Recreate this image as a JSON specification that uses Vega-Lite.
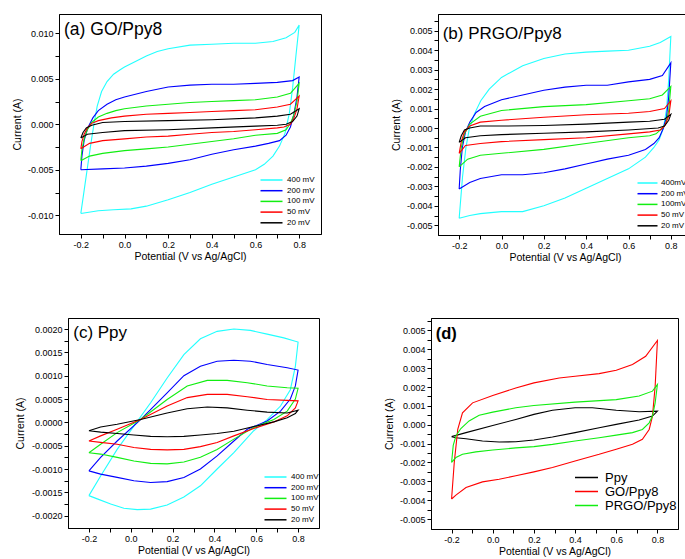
{
"$schema":"https://vega.github.io/schema/vega-lite/v6.json",
"padding":{"left":10,"top":13,"right":0,"bottom":0},
"background":"white",
"config":{
 "font":"Liberation Sans",
 "view":{"stroke":"black","strokeWidth":1},
 "axis":{"grid":false,"domainColor":"black","tickColor":"black","labelColor":"black","titleColor":"black","labelFontSize":9,"titleFontSize":10.5,"titleFontWeight":"normal","tickSize":4,"labelPadding":2,"labelFont":"Liberation Sans","titleFont":"Liberation Sans","labelOverlap":false,"labelFlush":false},
 "legend":{"labelFont":"Liberation Sans","labelColor":"black","padding":0}
},
"datasets":{
"a":[
{"s":"400 mV","x":-0.2,"y":-0.0098},{"s":"400 mV","x":-0.185,"y":-0.0073},{"s":"400 mV","x":-0.17,"y":-0.0048},{"s":"400 mV","x":-0.155,"y":-0.0023},{"s":"400 mV","x":-0.14,"y":0.0},{"s":"400 mV","x":-0.125,"y":0.002},{"s":"400 mV","x":-0.105,"y":0.0036},{"s":"400 mV","x":-0.08,"y":0.0047},{"s":"400 mV","x":-0.05,"y":0.0055},{"s":"400 mV","x":-0.02,"y":0.006},{"s":"400 mV","x":0.0,"y":0.0063},{"s":"400 mV","x":0.05,"y":0.0069},{"s":"400 mV","x":0.1,"y":0.0075},{"s":"400 mV","x":0.15,"y":0.008},{"s":"400 mV","x":0.2,"y":0.0083},{"s":"400 mV","x":0.3,"y":0.0087},{"s":"400 mV","x":0.4,"y":0.0088},{"s":"400 mV","x":0.5,"y":0.0089},{"s":"400 mV","x":0.6,"y":0.0089},{"s":"400 mV","x":0.68,"y":0.0091},{"s":"400 mV","x":0.74,"y":0.0095},{"s":"400 mV","x":0.78,"y":0.0101},{"s":"400 mV","x":0.8,"y":0.0109},{"s":"400 mV","x":0.785,"y":0.0075},{"s":"400 mV","x":0.77,"y":0.004},{"s":"400 mV","x":0.755,"y":0.0012},{"s":"400 mV","x":0.735,"y":-0.001},{"s":"400 mV","x":0.71,"y":-0.0024},{"s":"400 mV","x":0.68,"y":-0.0035},{"s":"400 mV","x":0.64,"y":-0.0044},{"s":"400 mV","x":0.6,"y":-0.005},{"s":"400 mV","x":0.5,"y":-0.0058},{"s":"400 mV","x":0.4,"y":-0.0066},{"s":"400 mV","x":0.3,"y":-0.0075},{"s":"400 mV","x":0.2,"y":-0.0083},{"s":"400 mV","x":0.1,"y":-0.009},{"s":"400 mV","x":0.03,"y":-0.0093},{"s":"400 mV","x":-0.05,"y":-0.0094},{"s":"400 mV","x":-0.12,"y":-0.0095},{"s":"400 mV","x":-0.2,"y":-0.0098},
{"s":"200 mV","x":-0.2,"y":-0.005},{"s":"200 mV","x":-0.195,"y":-0.0035},{"s":"200 mV","x":-0.185,"y":-0.0018},{"s":"200 mV","x":-0.17,"y":-0.0005},{"s":"200 mV","x":-0.145,"y":0.0007},{"s":"200 mV","x":-0.12,"y":0.0015},{"s":"200 mV","x":-0.08,"y":0.0022},{"s":"200 mV","x":-0.04,"y":0.0027},{"s":"200 mV","x":0.0,"y":0.003},{"s":"200 mV","x":0.1,"y":0.0036},{"s":"200 mV","x":0.2,"y":0.0041},{"s":"200 mV","x":0.3,"y":0.0043},{"s":"200 mV","x":0.4,"y":0.0044},{"s":"200 mV","x":0.5,"y":0.0044},{"s":"200 mV","x":0.6,"y":0.0045},{"s":"200 mV","x":0.7,"y":0.0046},{"s":"200 mV","x":0.77,"y":0.0048},{"s":"200 mV","x":0.8,"y":0.0052},{"s":"200 mV","x":0.79,"y":0.003},{"s":"200 mV","x":0.775,"y":0.001},{"s":"200 mV","x":0.76,"y":-0.0003},{"s":"200 mV","x":0.74,"y":-0.0012},{"s":"200 mV","x":0.71,"y":-0.0018},{"s":"200 mV","x":0.66,"y":-0.0021},{"s":"200 mV","x":0.6,"y":-0.0024},{"s":"200 mV","x":0.5,"y":-0.0028},{"s":"200 mV","x":0.4,"y":-0.0033},{"s":"200 mV","x":0.3,"y":-0.0039},{"s":"200 mV","x":0.2,"y":-0.0043},{"s":"200 mV","x":0.1,"y":-0.0046},{"s":"200 mV","x":0.0,"y":-0.0048},{"s":"200 mV","x":-0.1,"y":-0.0049},{"s":"200 mV","x":-0.2,"y":-0.005},
{"s":"100 mV","x":-0.2,"y":-0.004},{"s":"100 mV","x":-0.195,"y":-0.0028},{"s":"100 mV","x":-0.185,"y":-0.0016},{"s":"100 mV","x":-0.17,"y":-0.0006},{"s":"100 mV","x":-0.15,"y":0.0002},{"s":"100 mV","x":-0.12,"y":0.0008},{"s":"100 mV","x":-0.08,"y":0.0012},{"s":"100 mV","x":-0.04,"y":0.0015},{"s":"100 mV","x":0.0,"y":0.0017},{"s":"100 mV","x":0.1,"y":0.002},{"s":"100 mV","x":0.2,"y":0.0022},{"s":"100 mV","x":0.3,"y":0.0024},{"s":"100 mV","x":0.4,"y":0.0025},{"s":"100 mV","x":0.5,"y":0.0026},{"s":"100 mV","x":0.6,"y":0.0027},{"s":"100 mV","x":0.7,"y":0.003},{"s":"100 mV","x":0.76,"y":0.0034},{"s":"100 mV","x":0.8,"y":0.0045},{"s":"100 mV","x":0.79,"y":0.0025},{"s":"100 mV","x":0.775,"y":0.001},{"s":"100 mV","x":0.76,"y":0.0001},{"s":"100 mV","x":0.74,"y":-0.0006},{"s":"100 mV","x":0.7,"y":-0.001},{"s":"100 mV","x":0.6,"y":-0.0012},{"s":"100 mV","x":0.5,"y":-0.0016},{"s":"100 mV","x":0.4,"y":-0.0019},{"s":"100 mV","x":0.3,"y":-0.0022},{"s":"100 mV","x":0.2,"y":-0.0025},{"s":"100 mV","x":0.1,"y":-0.0027},{"s":"100 mV","x":0.0,"y":-0.0029},{"s":"100 mV","x":-0.1,"y":-0.0032},{"s":"100 mV","x":-0.16,"y":-0.0035},{"s":"100 mV","x":-0.2,"y":-0.004},
{"s":"50 mV","x":-0.2,"y":-0.0027},{"s":"50 mV","x":-0.195,"y":-0.0019},{"s":"50 mV","x":-0.185,"y":-0.0011},{"s":"50 mV","x":-0.17,"y":-0.0004},{"s":"50 mV","x":-0.15,"y":0.0001},{"s":"50 mV","x":-0.12,"y":0.0004},{"s":"50 mV","x":-0.06,"y":0.0007},{"s":"50 mV","x":0.0,"y":0.0009},{"s":"50 mV","x":0.1,"y":0.0011},{"s":"50 mV","x":0.2,"y":0.0012},{"s":"50 mV","x":0.3,"y":0.0013},{"s":"50 mV","x":0.4,"y":0.0014},{"s":"50 mV","x":0.5,"y":0.0015},{"s":"50 mV","x":0.6,"y":0.0016},{"s":"50 mV","x":0.7,"y":0.0019},{"s":"50 mV","x":0.76,"y":0.0022},{"s":"50 mV","x":0.8,"y":0.0031},{"s":"50 mV","x":0.79,"y":0.0017},{"s":"50 mV","x":0.775,"y":0.0006},{"s":"50 mV","x":0.76,"y":0.0},{"s":"50 mV","x":0.73,"y":-0.0003},{"s":"50 mV","x":0.7,"y":-0.0004},{"s":"50 mV","x":0.6,"y":-0.0006},{"s":"50 mV","x":0.5,"y":-0.0008},{"s":"50 mV","x":0.4,"y":-0.0009},{"s":"50 mV","x":0.3,"y":-0.0011},{"s":"50 mV","x":0.2,"y":-0.0013},{"s":"50 mV","x":0.1,"y":-0.0014},{"s":"50 mV","x":0.0,"y":-0.0016},{"s":"50 mV","x":-0.1,"y":-0.0018},{"s":"50 mV","x":-0.16,"y":-0.0021},{"s":"50 mV","x":-0.2,"y":-0.0027},
{"s":"20 mV","x":-0.2,"y":-0.0015},{"s":"20 mV","x":-0.19,"y":-0.0009},{"s":"20 mV","x":-0.175,"y":-0.0004},{"s":"20 mV","x":-0.15,"y":-0.0001},{"s":"20 mV","x":-0.1,"y":0.0002},{"s":"20 mV","x":0.0,"y":0.0003},{"s":"20 mV","x":0.2,"y":0.0004},{"s":"20 mV","x":0.4,"y":0.0005},{"s":"20 mV","x":0.6,"y":0.0007},{"s":"20 mV","x":0.7,"y":0.0009},{"s":"20 mV","x":0.76,"y":0.0011},{"s":"20 mV","x":0.8,"y":0.0017},{"s":"20 mV","x":0.79,"y":0.0009},{"s":"20 mV","x":0.77,"y":0.0003},{"s":"20 mV","x":0.74,"y":0.0},{"s":"20 mV","x":0.7,"y":-0.0001},{"s":"20 mV","x":0.6,"y":-0.0002},{"s":"20 mV","x":0.4,"y":-0.0004},{"s":"20 mV","x":0.2,"y":-0.0006},{"s":"20 mV","x":0.0,"y":-0.0007},{"s":"20 mV","x":-0.1,"y":-0.0009},{"s":"20 mV","x":-0.17,"y":-0.0011},{"s":"20 mV","x":-0.2,"y":-0.0015}
],
"b":[
{"s":"400mV","x":-0.2,"y":-0.00464},{"s":"400mV","x":-0.184,"y":-0.0025},{"s":"400mV","x":-0.168,"y":-0.001},{"s":"400mV","x":-0.153,"y":-0.0001},{"s":"400mV","x":-0.129,"y":0.0007},{"s":"400mV","x":-0.098,"y":0.0014},{"s":"400mV","x":-0.058,"y":0.002},{"s":"400mV","x":0.0,"y":0.0026},{"s":"400mV","x":0.1,"y":0.0032},{"s":"400mV","x":0.2,"y":0.00357},{"s":"400mV","x":0.3,"y":0.0038},{"s":"400mV","x":0.4,"y":0.0039},{"s":"400mV","x":0.5,"y":0.00395},{"s":"400mV","x":0.6,"y":0.004},{"s":"400mV","x":0.7,"y":0.0042},{"s":"400mV","x":0.75,"y":0.0044},{"s":"400mV","x":0.8,"y":0.0047},{"s":"400mV","x":0.79,"y":0.0025},{"s":"400mV","x":0.78,"y":0.001},{"s":"400mV","x":0.765,"y":0.0},{"s":"400mV","x":0.745,"y":-0.0006},{"s":"400mV","x":0.72,"y":-0.001},{"s":"400mV","x":0.68,"y":-0.0015},{"s":"400mV","x":0.6,"y":-0.0021},{"s":"400mV","x":0.5,"y":-0.0026},{"s":"400mV","x":0.4,"y":-0.0031},{"s":"400mV","x":0.3,"y":-0.0036},{"s":"400mV","x":0.2,"y":-0.004},{"s":"400mV","x":0.1,"y":-0.0043},{"s":"400mV","x":0.0,"y":-0.0043},{"s":"400mV","x":-0.1,"y":-0.0044},{"s":"400mV","x":-0.15,"y":-0.0045},{"s":"400mV","x":-0.2,"y":-0.00464},
{"s":"200 mV","x":-0.2,"y":-0.00314},{"s":"200 mV","x":-0.195,"y":-0.0022},{"s":"200 mV","x":-0.185,"y":-0.001},{"s":"200 mV","x":-0.17,"y":-0.0002},{"s":"200 mV","x":-0.15,"y":0.0003},{"s":"200 mV","x":-0.12,"y":0.0008},{"s":"200 mV","x":-0.08,"y":0.0011},{"s":"200 mV","x":0.0,"y":0.00145},{"s":"200 mV","x":0.1,"y":0.0017},{"s":"200 mV","x":0.2,"y":0.00194},{"s":"200 mV","x":0.3,"y":0.0021},{"s":"200 mV","x":0.4,"y":0.0022},{"s":"200 mV","x":0.5,"y":0.0022},{"s":"200 mV","x":0.6,"y":0.00237},{"s":"200 mV","x":0.7,"y":0.0025},{"s":"200 mV","x":0.76,"y":0.0027},{"s":"200 mV","x":0.8,"y":0.00335},{"s":"200 mV","x":0.79,"y":0.0016},{"s":"200 mV","x":0.78,"y":0.0006},{"s":"200 mV","x":0.765,"y":0.0},{"s":"200 mV","x":0.745,"y":-0.0005},{"s":"200 mV","x":0.72,"y":-0.0008},{"s":"200 mV","x":0.68,"y":-0.0011},{"s":"200 mV","x":0.6,"y":-0.0014},{"s":"200 mV","x":0.5,"y":-0.0016},{"s":"200 mV","x":0.4,"y":-0.00185},{"s":"200 mV","x":0.3,"y":-0.0021},{"s":"200 mV","x":0.2,"y":-0.0023},{"s":"200 mV","x":0.1,"y":-0.0024},{"s":"200 mV","x":0.0,"y":-0.0024},{"s":"200 mV","x":-0.1,"y":-0.0026},{"s":"200 mV","x":-0.15,"y":-0.0028},{"s":"200 mV","x":-0.2,"y":-0.00314},
{"s":"100mV","x":-0.2,"y":-0.002},{"s":"100mV","x":-0.19,"y":-0.001},{"s":"100mV","x":-0.175,"y":-0.0003},{"s":"100mV","x":-0.15,"y":0.0002},{"s":"100mV","x":-0.1,"y":0.0006},{"s":"100mV","x":0.0,"y":0.0009},{"s":"100mV","x":0.2,"y":0.0011},{"s":"100mV","x":0.4,"y":0.0012},{"s":"100mV","x":0.6,"y":0.0014},{"s":"100mV","x":0.7,"y":0.0015},{"s":"100mV","x":0.76,"y":0.0017},{"s":"100mV","x":0.8,"y":0.00214},{"s":"100mV","x":0.79,"y":0.0009},{"s":"100mV","x":0.775,"y":0.0002},{"s":"100mV","x":0.76,"y":0.0},{"s":"100mV","x":0.73,"y":-0.0003},{"s":"100mV","x":0.7,"y":-0.0004},{"s":"100mV","x":0.6,"y":-0.0005},{"s":"100mV","x":0.4,"y":-0.0008},{"s":"100mV","x":0.2,"y":-0.0011},{"s":"100mV","x":0.0,"y":-0.0013},{"s":"100mV","x":-0.1,"y":-0.0014},{"s":"100mV","x":-0.16,"y":-0.0016},{"s":"100mV","x":-0.2,"y":-0.002},
{"s":"50 mV","x":-0.2,"y":-0.0013},{"s":"50 mV","x":-0.19,"y":-0.0007},{"s":"50 mV","x":-0.175,"y":-0.0002},{"s":"50 mV","x":-0.15,"y":0.0001},{"s":"50 mV","x":-0.1,"y":0.0003},{"s":"50 mV","x":0.0,"y":0.0004},{"s":"50 mV","x":0.2,"y":0.00055},{"s":"50 mV","x":0.4,"y":0.00068},{"s":"50 mV","x":0.6,"y":0.00076},{"s":"50 mV","x":0.7,"y":0.00085},{"s":"50 mV","x":0.77,"y":0.001},{"s":"50 mV","x":0.8,"y":0.0014},{"s":"50 mV","x":0.79,"y":0.0006},{"s":"50 mV","x":0.77,"y":0.0001},{"s":"50 mV","x":0.75,"y":-0.0001},{"s":"50 mV","x":0.7,"y":-0.0002},{"s":"50 mV","x":0.6,"y":-0.0003},{"s":"50 mV","x":0.4,"y":-0.0005},{"s":"50 mV","x":0.2,"y":-0.0006},{"s":"50 mV","x":0.0,"y":-0.0007},{"s":"50 mV","x":-0.1,"y":-0.0008},{"s":"50 mV","x":-0.17,"y":-0.0009},{"s":"50 mV","x":-0.2,"y":-0.0013},
{"s":"20 mV","x":-0.2,"y":-0.00074},{"s":"20 mV","x":-0.19,"y":-0.0004},{"s":"20 mV","x":-0.175,"y":-0.0001},{"s":"20 mV","x":-0.15,"y":0.0},{"s":"20 mV","x":-0.1,"y":0.0001},{"s":"20 mV","x":0.0,"y":0.0001},{"s":"20 mV","x":0.2,"y":0.00013},{"s":"20 mV","x":0.4,"y":0.0002},{"s":"20 mV","x":0.6,"y":0.0003},{"s":"20 mV","x":0.7,"y":0.00035},{"s":"20 mV","x":0.77,"y":0.00045},{"s":"20 mV","x":0.8,"y":0.0007},{"s":"20 mV","x":0.79,"y":0.0004},{"s":"20 mV","x":0.77,"y":0.0001},{"s":"20 mV","x":0.74,"y":0.0},{"s":"20 mV","x":0.6,"y":-0.0001},{"s":"20 mV","x":0.4,"y":-0.0002},{"s":"20 mV","x":0.2,"y":-0.00027},{"s":"20 mV","x":0.0,"y":-0.00034},{"s":"20 mV","x":-0.1,"y":-0.0004},{"s":"20 mV","x":-0.17,"y":-0.0005},{"s":"20 mV","x":-0.2,"y":-0.00074}
],
"c":[
{"s":"400 mV","x":-0.2,"y":-0.00157},{"s":"400 mV","x":-0.144,"y":-0.00115},{"s":"400 mV","x":-0.065,"y":-0.00058},{"s":"400 mV","x":0.015,"y":-0.00008},{"s":"400 mV","x":0.095,"y":0.00042},{"s":"400 mV","x":0.174,"y":0.00095},{"s":"400 mV","x":0.254,"y":0.00145},{"s":"400 mV","x":0.333,"y":0.00179},{"s":"400 mV","x":0.413,"y":0.00195},{"s":"400 mV","x":0.493,"y":0.002},{"s":"400 mV","x":0.572,"y":0.00197},{"s":"400 mV","x":0.652,"y":0.00189},{"s":"400 mV","x":0.732,"y":0.00181},{"s":"400 mV","x":0.8,"y":0.00172},{"s":"400 mV","x":0.787,"y":0.0012},{"s":"400 mV","x":0.763,"y":0.0007},{"s":"400 mV","x":0.716,"y":0.00035},{"s":"400 mV","x":0.652,"y":0.00006},{"s":"400 mV","x":0.588,"y":-0.00018},{"s":"400 mV","x":0.493,"y":-0.00065},{"s":"400 mV","x":0.413,"y":-0.001},{"s":"400 mV","x":0.333,"y":-0.00136},{"s":"400 mV","x":0.254,"y":-0.0016},{"s":"400 mV","x":0.174,"y":-0.00177},{"s":"400 mV","x":0.095,"y":-0.00186},{"s":"400 mV","x":0.031,"y":-0.00187},{"s":"400 mV","x":-0.033,"y":-0.00184},{"s":"400 mV","x":-0.096,"y":-0.00175},{"s":"400 mV","x":-0.16,"y":-0.00164},{"s":"400 mV","x":-0.2,"y":-0.00157},
{"s":"200 mV","x":-0.2,"y":-0.00104},{"s":"200 mV","x":-0.144,"y":-0.00075},{"s":"200 mV","x":-0.065,"y":-0.0004},{"s":"200 mV","x":0.047,"y":0.00006},{"s":"200 mV","x":0.174,"y":0.00063},{"s":"200 mV","x":0.254,"y":0.001},{"s":"200 mV","x":0.333,"y":0.0012},{"s":"200 mV","x":0.413,"y":0.00131},{"s":"200 mV","x":0.493,"y":0.00133},{"s":"200 mV","x":0.572,"y":0.00131},{"s":"200 mV","x":0.652,"y":0.00124},{"s":"200 mV","x":0.748,"y":0.00117},{"s":"200 mV","x":0.8,"y":0.00112},{"s":"200 mV","x":0.787,"y":0.00078},{"s":"200 mV","x":0.763,"y":0.0005},{"s":"200 mV","x":0.716,"y":0.00024},{"s":"200 mV","x":0.652,"y":0.00003},{"s":"200 mV","x":0.557,"y":-0.00015},{"s":"200 mV","x":0.493,"y":-0.0004},{"s":"200 mV","x":0.413,"y":-0.00072},{"s":"200 mV","x":0.333,"y":-0.001},{"s":"200 mV","x":0.254,"y":-0.00118},{"s":"200 mV","x":0.174,"y":-0.00127},{"s":"200 mV","x":0.095,"y":-0.00129},{"s":"200 mV","x":0.015,"y":-0.00125},{"s":"200 mV","x":-0.065,"y":-0.00118},{"s":"200 mV","x":-0.144,"y":-0.00111},{"s":"200 mV","x":-0.2,"y":-0.00104},
{"s":"100 mV","x":-0.2,"y":-0.00065},{"s":"100 mV","x":-0.144,"y":-0.00047},{"s":"100 mV","x":-0.065,"y":-0.00022},{"s":"100 mV","x":0.047,"y":0.00006},{"s":"100 mV","x":0.174,"y":0.00049},{"s":"100 mV","x":0.27,"y":0.00078},{"s":"100 mV","x":0.366,"y":0.0009},{"s":"100 mV","x":0.461,"y":0.0009},{"s":"100 mV","x":0.557,"y":0.00085},{"s":"100 mV","x":0.652,"y":0.00078},{"s":"100 mV","x":0.748,"y":0.00074},{"s":"100 mV","x":0.8,"y":0.00073},{"s":"100 mV","x":0.787,"y":0.0005},{"s":"100 mV","x":0.748,"y":0.00024},{"s":"100 mV","x":0.684,"y":0.00006},{"s":"100 mV","x":0.588,"y":-0.00011},{"s":"100 mV","x":0.493,"y":-0.00036},{"s":"100 mV","x":0.413,"y":-0.00058},{"s":"100 mV","x":0.333,"y":-0.00075},{"s":"100 mV","x":0.254,"y":-0.00085},{"s":"100 mV","x":0.174,"y":-0.00089},{"s":"100 mV","x":0.095,"y":-0.00088},{"s":"100 mV","x":0.015,"y":-0.00083},{"s":"100 mV","x":-0.065,"y":-0.00075},{"s":"100 mV","x":-0.144,"y":-0.00068},{"s":"100 mV","x":-0.2,"y":-0.00065},
{"s":"50 mV","x":-0.2,"y":-0.0004},{"s":"50 mV","x":-0.144,"y":-0.00029},{"s":"50 mV","x":-0.065,"y":-0.00015},{"s":"50 mV","x":0.047,"y":0.00006},{"s":"50 mV","x":0.174,"y":0.00035},{"s":"50 mV","x":0.27,"y":0.00053},{"s":"50 mV","x":0.366,"y":0.0006},{"s":"50 mV","x":0.461,"y":0.0006},{"s":"50 mV","x":0.557,"y":0.00055},{"s":"50 mV","x":0.652,"y":0.00049},{"s":"50 mV","x":0.748,"y":0.00047},{"s":"50 mV","x":0.8,"y":0.00046},{"s":"50 mV","x":0.787,"y":0.00031},{"s":"50 mV","x":0.748,"y":0.00014},{"s":"50 mV","x":0.684,"y":0.00001},{"s":"50 mV","x":0.588,"y":-0.00013},{"s":"50 mV","x":0.493,"y":-0.00029},{"s":"50 mV","x":0.413,"y":-0.00043},{"s":"50 mV","x":0.333,"y":-0.00052},{"s":"50 mV","x":0.254,"y":-0.00058},{"s":"50 mV","x":0.174,"y":-0.00059},{"s":"50 mV","x":0.095,"y":-0.00058},{"s":"50 mV","x":0.015,"y":-0.00054},{"s":"50 mV","x":-0.065,"y":-0.00047},{"s":"50 mV","x":-0.144,"y":-0.00043},{"s":"50 mV","x":-0.2,"y":-0.0004},
{"s":"20 mV","x":-0.2,"y":-0.00018},{"s":"20 mV","x":-0.144,"y":-0.0001},{"s":"20 mV","x":-0.065,"y":-0.00004},{"s":"20 mV","x":0.047,"y":0.00006},{"s":"20 mV","x":0.174,"y":0.0002},{"s":"20 mV","x":0.27,"y":0.00029},{"s":"20 mV","x":0.366,"y":0.00033},{"s":"20 mV","x":0.461,"y":0.00031},{"s":"20 mV","x":0.557,"y":0.00026},{"s":"20 mV","x":0.652,"y":0.00022},{"s":"20 mV","x":0.748,"y":0.0002},{"s":"20 mV","x":0.8,"y":0.00026},{"s":"20 mV","x":0.787,"y":0.00019},{"s":"20 mV","x":0.748,"y":0.0001},{"s":"20 mV","x":0.684,"y":0.00001},{"s":"20 mV","x":0.588,"y":-0.00009},{"s":"20 mV","x":0.493,"y":-0.00019},{"s":"20 mV","x":0.413,"y":-0.00024},{"s":"20 mV","x":0.333,"y":-0.00027},{"s":"20 mV","x":0.254,"y":-0.0003},{"s":"20 mV","x":0.174,"y":-0.00031},{"s":"20 mV","x":0.095,"y":-0.0003},{"s":"20 mV","x":0.015,"y":-0.00027},{"s":"20 mV","x":-0.065,"y":-0.00024},{"s":"20 mV","x":-0.144,"y":-0.00021},{"s":"20 mV","x":-0.2,"y":-0.00018}
],
"d":[
{"s":"Ppy","x":-0.2,"y":-0.00063},{"s":"Ppy","x":-0.13,"y":-0.00042},{"s":"Ppy","x":0.0,"y":-0.00004},{"s":"Ppy","x":0.112,"y":0.00028},{"s":"Ppy","x":0.2,"y":0.00055},{"s":"Ppy","x":0.29,"y":0.00077},{"s":"Ppy","x":0.4,"y":0.0009},{"s":"Ppy","x":0.484,"y":0.0009},{"s":"Ppy","x":0.6,"y":0.00077},{"s":"Ppy","x":0.711,"y":0.00069},{"s":"Ppy","x":0.8,"y":0.00072},{"s":"Ppy","x":0.776,"y":0.00046},{"s":"Ppy","x":0.711,"y":0.00025},{"s":"Ppy","x":0.6,"y":0.00002},{"s":"Ppy","x":0.517,"y":-0.00016},{"s":"Ppy","x":0.4,"y":-0.00042},{"s":"Ppy","x":0.29,"y":-0.00065},{"s":"Ppy","x":0.2,"y":-0.00081},{"s":"Ppy","x":0.112,"y":-0.0009},{"s":"Ppy","x":0.031,"y":-0.00092},{"s":"Ppy","x":-0.05,"y":-0.00086},{"s":"Ppy","x":-0.13,"y":-0.00074},{"s":"Ppy","x":-0.179,"y":-0.00069},{"s":"Ppy","x":-0.2,"y":-0.00063},
{"s":"GO/Ppy8","x":-0.2,"y":-0.00394},{"s":"GO/Ppy8","x":-0.187,"y":-0.002},{"s":"GO/Ppy8","x":-0.17,"y":-0.00025},{"s":"GO/Ppy8","x":-0.147,"y":0.00063},{"s":"GO/Ppy8","x":-0.098,"y":0.00116},{"s":"GO/Ppy8","x":0.0,"y":0.00155},{"s":"GO/Ppy8","x":0.112,"y":0.00195},{"s":"GO/Ppy8","x":0.2,"y":0.00222},{"s":"GO/Ppy8","x":0.323,"y":0.00248},{"s":"GO/Ppy8","x":0.4,"y":0.00257},{"s":"GO/Ppy8","x":0.517,"y":0.00271},{"s":"GO/Ppy8","x":0.6,"y":0.00289},{"s":"GO/Ppy8","x":0.679,"y":0.00319},{"s":"GO/Ppy8","x":0.743,"y":0.00363},{"s":"GO/Ppy8","x":0.8,"y":0.00447},{"s":"GO/Ppy8","x":0.789,"y":0.00204},{"s":"GO/Ppy8","x":0.776,"y":0.00046},{"s":"GO/Ppy8","x":0.76,"y":-0.00025},{"s":"GO/Ppy8","x":0.727,"y":-0.00077},{"s":"GO/Ppy8","x":0.679,"y":-0.00104},{"s":"GO/Ppy8","x":0.6,"y":-0.0013},{"s":"GO/Ppy8","x":0.517,"y":-0.00157},{"s":"GO/Ppy8","x":0.4,"y":-0.00192},{"s":"GO/Ppy8","x":0.29,"y":-0.00227},{"s":"GO/Ppy8","x":0.2,"y":-0.0025},{"s":"GO/Ppy8","x":0.112,"y":-0.00271},{"s":"GO/Ppy8","x":0.031,"y":-0.00289},{"s":"GO/Ppy8","x":-0.05,"y":-0.00303},{"s":"GO/Ppy8","x":-0.13,"y":-0.00333},{"s":"GO/Ppy8","x":-0.179,"y":-0.00373},{"s":"GO/Ppy8","x":-0.2,"y":-0.00394},
{"s":"PRGO/Ppy8","x":-0.2,"y":-0.002},{"s":"PRGO/Ppy8","x":-0.192,"y":-0.0011},{"s":"PRGO/Ppy8","x":-0.179,"y":-0.0006},{"s":"PRGO/Ppy8","x":-0.155,"y":-0.0002},{"s":"PRGO/Ppy8","x":-0.115,"y":0.0002},{"s":"PRGO/Ppy8","x":-0.066,"y":0.0005},{"s":"PRGO/Ppy8","x":0.0,"y":0.00067},{"s":"PRGO/Ppy8","x":0.112,"y":0.0009},{"s":"PRGO/Ppy8","x":0.2,"y":0.00102},{"s":"PRGO/Ppy8","x":0.4,"y":0.0012},{"s":"PRGO/Ppy8","x":0.6,"y":0.00133},{"s":"PRGO/Ppy8","x":0.711,"y":0.00152},{"s":"PRGO/Ppy8","x":0.776,"y":0.00178},{"s":"PRGO/Ppy8","x":0.8,"y":0.00213},{"s":"PRGO/Ppy8","x":0.789,"y":0.00116},{"s":"PRGO/Ppy8","x":0.776,"y":0.00046},{"s":"PRGO/Ppy8","x":0.76,"y":0.0001},{"s":"PRGO/Ppy8","x":0.727,"y":-0.00025},{"s":"PRGO/Ppy8","x":0.679,"y":-0.00042},{"s":"PRGO/Ppy8","x":0.6,"y":-0.00055},{"s":"PRGO/Ppy8","x":0.517,"y":-0.00069},{"s":"PRGO/Ppy8","x":0.4,"y":-0.00086},{"s":"PRGO/Ppy8","x":0.29,"y":-0.00104},{"s":"PRGO/Ppy8","x":0.2,"y":-0.00116},{"s":"PRGO/Ppy8","x":0.112,"y":-0.00123},{"s":"PRGO/Ppy8","x":0.0,"y":-0.00134},{"s":"PRGO/Ppy8","x":-0.082,"y":-0.00144},{"s":"PRGO/Ppy8","x":-0.147,"y":-0.00157},{"s":"PRGO/Ppy8","x":-0.179,"y":-0.00174},{"s":"PRGO/Ppy8","x":-0.2,"y":-0.002}
]
},
"resolve":{"scale":{"x":"independent","y":"independent","color":"independent"},"legend":{"color":"independent"},"axis":{"x":"independent","y":"independent"}},
"spacing":53,
"vconcat":[
{"spacing":0,
 "resolve":{"scale":{"x":"independent","y":"independent","color":"independent"},"legend":{"color":"independent"},"axis":{"x":"independent","y":"independent"}},
 "hconcat":[
 {"width":1,"height":1,"view":{"stroke":null},"data":{"values":[]},"mark":{"type":"point","opacity":0},"encoding":{}},
 {"spacing":68,
  "resolve":{"scale":{"x":"independent","y":"independent","color":"independent"},"legend":{"color":"independent"},"axis":{"x":"independent","y":"independent"}},
  "hconcat":[
  {"width":262,"height":220,
   "encoding":{
    "x":{"field":"x","type":"quantitative","scale":{"domain":[-0.3,0.9],"nice":false,"zero":false},"axis":{"title":"Potential (V vs Ag/AgCl)","values":[-0.2,-0.1,0,0.1,0.2,0.3,0.4,0.5,0.6,0.7,0.8],"labelExpr":"round(datum.value*10) % 2 != 0 ? '' : replace(format(datum.value, '.1f'), '\u2212', '-')","titlePadding":2}},
    "y":{"field":"y","type":"quantitative","scale":{"domain":[-0.01206,0.01212],"nice":false,"zero":false},"axis":{"title":"Current (A)","values":[-0.01,-0.0075,-0.005,-0.0025,0,0.0025,0.005,0.0075,0.01],"labelExpr":"round(datum.value*400) % 2 != 0 ? '' : replace(format(datum.value, '.3f'), '\u2212', '-')","titlePadding":5}}
   },
   "layer":[
    {"data":{"name":"a"},"mark":{"type":"line","strokeWidth":1.1,"clip":true},
     "encoding":{"color":{"field":"s","type":"nominal","scale":{"domain":["400 mV","200 mV","100 mV","50 mV","20 mV"],"range":["#22FFFF","#0000FF","#11EE11","#FF0000","#000000"]},
       "legend":{"title":null,"orient":"none","legendX":200,"legendY":162,"symbolType":"M-1,0H7.8","symbolSize":25,"symbolStrokeWidth":1.5,"labelFontSize":8,"labelOffset":20,"rowPadding":2.7}},
      "order":{"value":null}}},
    {"data":{"values":[{"x":-0.277,"y":0.01036,"t":"(a) GO/Ppy8"}]},"mark":{"type":"text","align":"left","baseline":"middle","fontSize":17.5,"font":"Liberation Sans","color":"black"},"encoding":{"text":{"field":"t"}}}
   ]},
  {"width":254,"height":221,
   "encoding":{
    "x":{"field":"x","type":"quantitative","scale":{"domain":[-0.3,0.9],"nice":false,"zero":false},"axis":{"title":"Potential (V vs Ag/AgCl)","values":[-0.2,-0.1,0,0.1,0.2,0.3,0.4,0.5,0.6,0.7,0.8],"labelExpr":"round(datum.value*10) % 2 != 0 ? '' : replace(format(datum.value, '.1f'), '\u2212', '-')","titlePadding":2}},
    "y":{"field":"y","type":"quantitative","scale":{"domain":[-0.0055,0.00586],"nice":false,"zero":false},"axis":{"title":"Current (A)","values":[-0.005,-0.0045,-0.004,-0.0035,-0.003,-0.0025,-0.002,-0.0015,-0.001,-0.0005,0,0.0005,0.001,0.0015,0.002,0.0025,0.003,0.0035,0.004,0.0045,0.005,0.0055],"labelExpr":"round(datum.value*2000) % 2 != 0 ? '' : replace(format(datum.value, '.3f'), '\u2212', '-')","titlePadding":5}}
   },
   "layer":[
    {"data":{"name":"b"},"mark":{"type":"line","strokeWidth":1.1,"clip":true},
     "encoding":{"color":{"field":"s","type":"nominal","scale":{"domain":["400mV","200 mV","100mV","50 mV","20 mV"],"range":["#22FFFF","#0000FF","#11EE11","#FF0000","#000000"]},
       "legend":{"title":null,"orient":"none","legendX":198,"legendY":165,"symbolType":"M-1,0H7","symbolSize":25,"symbolStrokeWidth":1.5,"labelFontSize":8,"labelOffset":17,"rowPadding":2.7}},
      "order":{"value":null}}},
    {"data":{"values":[{"x":-0.278,"y":0.00483,"t":"(b) PRGO/Ppy8"}]},"mark":{"type":"text","align":"left","baseline":"middle","fontSize":17,"font":"Liberation Sans","color":"black"},"encoding":{"text":{"field":"t"}}}
   ]}
  ]}
 ]},
{"spacing":0,
 "resolve":{"scale":{"x":"independent","y":"independent","color":"independent"},"legend":{"color":"independent"},"axis":{"x":"independent","y":"independent"}},
 "hconcat":[
 {"width":4,"height":1,"view":{"stroke":null},"data":{"values":[]},"mark":{"type":"point","opacity":0},"encoding":{}},
 {"spacing":63,
  "resolve":{"scale":{"x":"independent","y":"independent","color":"independent"},"legend":{"color":"independent"},"axis":{"x":"independent","y":"independent"}},
  "hconcat":[
  {"width":251,"height":210,
   "encoding":{
    "x":{"field":"x","type":"quantitative","scale":{"domain":[-0.3,0.9],"nice":false,"zero":false},"axis":{"title":"Potential (V vs Ag/AgCl)","values":[-0.2,-0.1,0,0.1,0.2,0.3,0.4,0.5,0.6,0.7,0.8],"labelExpr":"round(datum.value*10) % 2 != 0 ? '' : replace(format(datum.value, '.1f'), '\u2212', '-')","titlePadding":2}},
    "y":{"field":"y","type":"quantitative","scale":{"domain":[-0.002264,0.002236],"nice":false,"zero":false},"axis":{"title":"Current (A)","values":[-0.002,-0.00175,-0.0015,-0.00125,-0.001,-0.00075,-0.0005,-0.00025,0,0.00025,0.0005,0.00075,0.001,0.00125,0.0015,0.00175,0.002],"labelExpr":"round(datum.value*4000) % 2 != 0 ? '' : replace(format(datum.value, '.4f'), '\u2212', '-')","titlePadding":6}}
   },
   "layer":[
    {"data":{"name":"c"},"mark":{"type":"line","strokeWidth":1.1,"clip":true},
     "encoding":{"color":{"field":"s","type":"nominal","scale":{"domain":["400 mV","200 mV","100 mV","50 mV","20 mV"],"range":["#22FFFF","#0000FF","#11EE11","#FF0000","#000000"]},
       "legend":{"title":null,"orient":"none","legendX":195,"legendY":155,"symbolType":"M-1,0H7.8","symbolSize":25,"symbolStrokeWidth":1.5,"labelFontSize":8,"labelOffset":20,"rowPadding":2.7}},
      "order":{"value":null}}},
    {"data":{"values":[{"x":-0.275,"y":0.00191,"t":"(c) Ppy"}]},"mark":{"type":"text","align":"left","baseline":"middle","fontSize":17,"font":"Liberation Sans","color":"black"},"encoding":{"text":{"field":"t"}}}
   ]},
  {"width":247,"height":211,
   "encoding":{
    "x":{"field":"x","type":"quantitative","scale":{"domain":[-0.3,0.9],"nice":false,"zero":false},"axis":{"title":"Potential (V vs Ag/AgCl)","values":[-0.2,-0.1,0,0.1,0.2,0.3,0.4,0.5,0.6,0.7,0.8],"labelExpr":"round(datum.value*10) % 2 != 0 ? '' : replace(format(datum.value, '.1f'), '\u2212', '-')","titlePadding":2}},
    "y":{"field":"y","type":"quantitative","scale":{"domain":[-0.00553,0.00566],"nice":false,"zero":false},"axis":{"title":"Current (A)","values":[-0.005,-0.0045,-0.004,-0.0035,-0.003,-0.0025,-0.002,-0.0015,-0.001,-0.0005,0,0.0005,0.001,0.0015,0.002,0.0025,0.003,0.0035,0.004,0.0045,0.005,0.0055],"labelExpr":"round(datum.value*2000) % 2 != 0 ? '' : replace(format(datum.value, '.3f'), '\u2212', '-')","titlePadding":5}}
   },
   "layer":[
    {"data":{"name":"d"},"mark":{"type":"line","strokeWidth":1.1,"clip":true},
     "encoding":{"color":{"field":"s","type":"nominal","scale":{"domain":["Ppy","GO/Ppy8","PRGO/Ppy8"],"range":["#000000","#FF0000","#11EE11"]},
       "legend":{"title":null,"orient":"none","legendX":140,"legendY":153,"symbolType":"M-1,0H8.2","symbolSize":25,"symbolStrokeWidth":1.5,"labelFontSize":13,"labelOffset":21,"rowPadding":-1.5}},
      "order":{"value":null}}},
    {"data":{"values":[{"x":-0.277,"y":0.00482,"t":"(d)"}]},"mark":{"type":"text","align":"left","baseline":"middle","fontSize":16.5,"fontWeight":"bold","font":"Liberation Sans","color":"black"},"encoding":{"text":{"field":"t"}}}
   ]}
  ]}
 ]}
]
}
